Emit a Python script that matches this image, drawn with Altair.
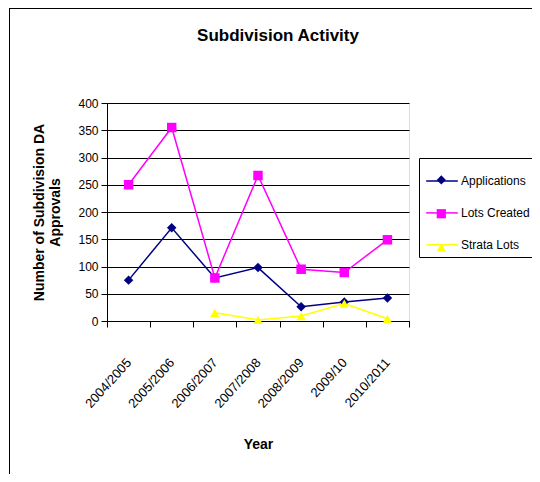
import altair as alt
import pandas as pd

years = ["2004/2005", "2005/2006", "2006/2007", "2007/2008", "2008/2009", "2009/10", "2010/2011"]
applications = [75, 171, 79, 98, 26, 35, 42]
lots_created = [250, 355, 79, 267, 95, 89, 149]
strata_lots = [None, None, 15, 2, 9, 32, 4]
series_names = ["Applications", "Lots Created", "Strata Lots"]
series_colors = ["#000080", "#FF00FF", "#FFFF00"]
series_shapes = ["diamond", "square", "triangle-up"]
line_names = [n + " " for n in series_names]

rows = []
for name, lname, vals in zip(series_names, line_names, [applications, lots_created, strata_lots]):
    for y, v in zip(years, vals):
        if v is not None:
            rows.append({"Year": y, "Series": name, "SeriesL": lname, "Value": v})
df = pd.DataFrame(rows)

FONT = "Liberation Sans"
W, H = 302, 218
SYM = 85

xenc = alt.X("Year:N", sort=years, bandPosition=0.5,
             scale=alt.Scale(type="band", paddingInner=0, paddingOuter=0),
             axis=alt.Axis(title="Year", labelAngle=-48, labelAlign="right", labelBaseline="middle",
                           labelPadding=33, labelFontSize=13, labelFont=FONT, labelColor="black",
                           tickBand="extent", tickColor="black", tickSize=6, domainColor="black",
                           titleFont=FONT, titleFontSize=14, titleFontWeight="bold", titlePadding=27,
                           titleColor="black", grid=False))
yenc = alt.Y("Value:Q", scale=alt.Scale(domain=[0, 400]),
             axis=alt.Axis(values=list(range(0, 401, 50)), title=["Number of Subdivision DA", "Approvals"],
                           labelFontSize=12, labelFont=FONT, labelColor="black", tickColor="black", tickSize=6,
                           domainColor="black", gridColor="black", gridWidth=1, titleFont=FONT,
                           titleFontSize=14, titleFontWeight="bold", titleColor="black", titlePadding=15,
                           labelPadding=3))

legend_lines = alt.Legend(title=None, orient="none", legendX=312, legendY=55,
                          strokeColor="black", fillColor="white", padding=6,
                          labelFont=FONT, labelFontSize=12, labelColor="black",
                          symbolType="stroke", symbolSize=1000, symbolStrokeWidth=1.5,
                          rowPadding=8.9, labelOffset=2, zindex=0)
legend_marks = alt.Legend(title=None, orient="none", legendX=313, legendY=55 + 9.3 + 1 + 1.65,
                          padding=5, labelFont=FONT, labelFontSize=0.1, labelExpr="''",
                          symbolSize=SYM, symbolStrokeWidth=0, symbolOpacity=1,
                          rowPadding=33 - SYM ** 0.5, symbolOffset=11.3, labelOffset=0, zindex=1)

lines = alt.Chart(df).mark_line(strokeWidth=1.5).encode(
    x=xenc, y=yenc, detail="Series:N",
    stroke=alt.Stroke("SeriesL:N", sort=line_names,
                      scale=alt.Scale(domain=line_names, range=series_colors), legend=legend_lines))

points = alt.Chart(df).mark_point(filled=True, opacity=1, size=90).encode(
    x=xenc, y=yenc,
    color=alt.Color("Series:N", sort=series_names,
                    scale=alt.Scale(domain=series_names, range=series_colors), legend=legend_marks),
    shape=alt.Shape("Series:N", sort=series_names,
                    scale=alt.Scale(domain=series_names, range=series_shapes), legend=legend_marks),
)

border = alt.Chart(df).mark_rect(fill=None, stroke="black", strokeWidth=1).encode(
    x=alt.value(-97.5), x2=alt.value(600), y=alt.value(-94.5), y2=alt.value(600))

chart = alt.layer(lines, points, border).properties(
    width=W, height=H,
    title=alt.Title("Subdivision Activity", font=FONT, fontSize=17, fontWeight="bold",
                    color="black", offset=-37, dx=20, frame="group"),
    autosize=alt.AutoSizeParams(type="none"),
    padding={"left": 99, "top": 95, "right": 123, "bottom": 153},
).configure_view(fill="#C0C0C0", stroke="#808080", strokeWidth=1).configure(background="white")

chart.save("out.html", embed_options={"renderer": "svg", "actions": False})
